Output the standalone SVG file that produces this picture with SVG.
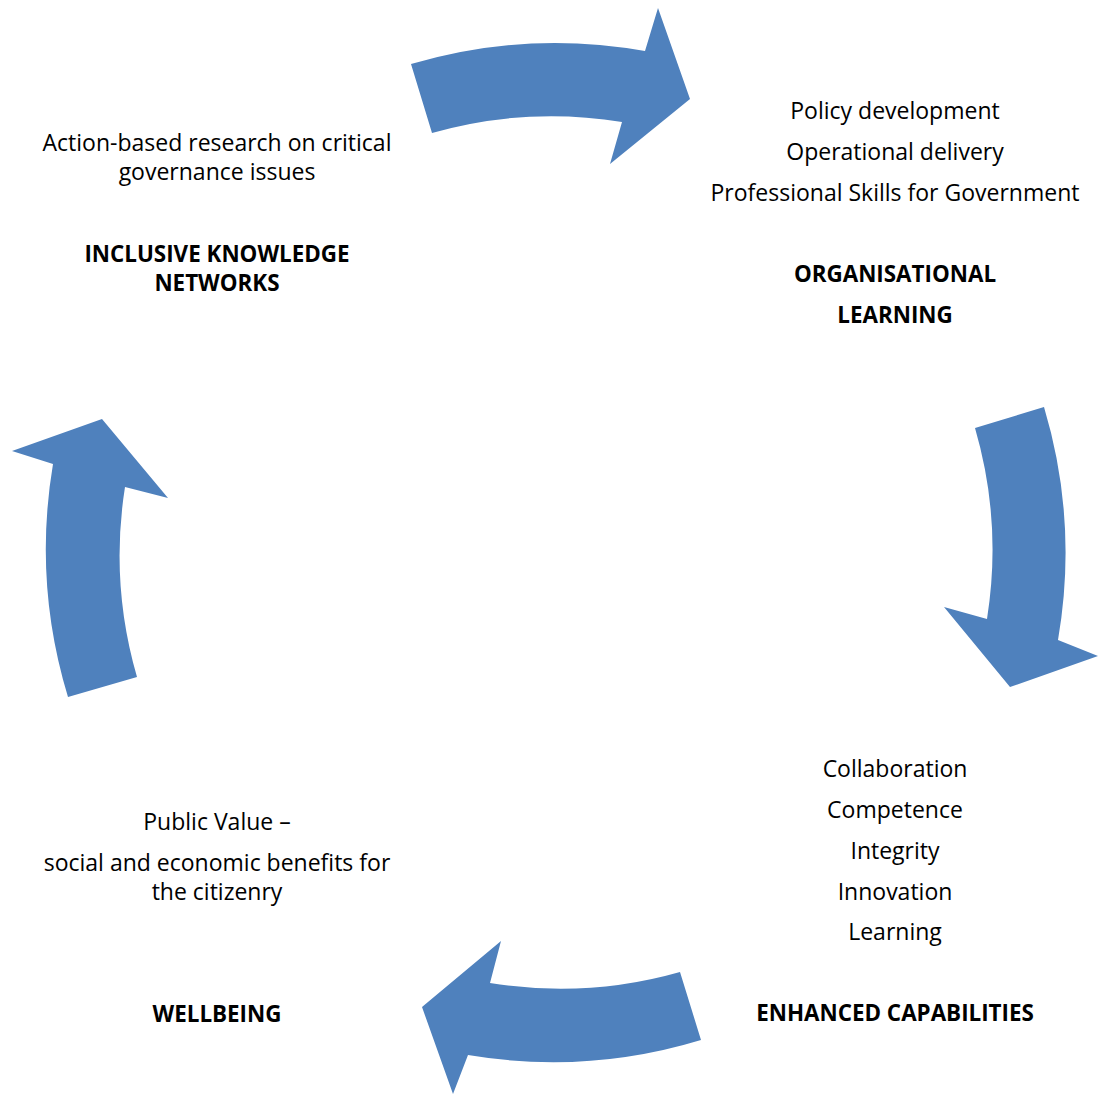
<svg xmlns="http://www.w3.org/2000/svg" width="1099" height="1095" viewBox="0 0 1099 1095">
  <style>
    .arrow { fill: #4F81BD; stroke: none; }
    text { font-family: "Open Sans", "Noto Sans", sans-serif; font-size: 23px; fill: #000; text-anchor: middle; }
    .title { font-weight: bold; font-size: 22.4px; }
  </style>
  <rect width="1099" height="1095" fill="#fff"/>

  <!-- curved block arrows around a common centre (555,552) -->
  <g id="connectors">
    <path class="arrow" d="M 411 64 A 510 510 0 0 1 645 51 L 658 8 L 690 99 L 610 164 L 622 122 A 437 437 0 0 0 432 133 Z"/>
    <path class="arrow" d="M 1044 407 A 510 510 0 0 1 1058 640 L 1098 656 L 1010 687 L 944 607 L 987 619 A 437 437 0 0 0 975 428 Z"/>
    <path class="arrow" d="M 701 1040 A 510 510 0 0 1 468 1055 L 453 1094 L 422 1007 L 501 941 L 490 983 A 437 437 0 0 0 680 972 Z"/>
    <path class="arrow" d="M 68 697 A 510 510 0 0 1 53 464 L 12 451 L 102 419 L 168 498 L 125 487 A 437 437 0 0 0 137 677 Z"/>
  </g>

  <g id="inclusive-knowledge-networks">
    <text x="217" y="151">Action-based research on critical</text>
    <text x="217" y="180">governance issues</text>
    <text class="title" x="217" y="262">INCLUSIVE KNOWLEDGE</text>
    <text class="title" x="217" y="291">NETWORKS</text>
  </g>

  <g id="organisational-learning">
    <text x="895" y="119">Policy development</text>
    <text x="895" y="160">Operational delivery</text>
    <text x="895" y="201">Professional Skills for Government</text>
    <text class="title" x="895" y="282">ORGANISATIONAL</text>
    <text class="title" x="895" y="323">LEARNING</text>
  </g>

  <g id="enhanced-capabilities">
    <text x="895" y="777">Collaboration</text>
    <text x="895" y="818">Competence</text>
    <text x="895" y="859">Integrity</text>
    <text x="895" y="900">Innovation</text>
    <text x="895" y="940">Learning</text>
    <text class="title" x="895" y="1021">ENHANCED CAPABILITIES</text>
  </g>

  <g id="wellbeing">
    <text x="217" y="830">Public Value –</text>
    <text x="217" y="871">social and economic benefits for</text>
    <text x="217" y="900">the citizenry</text>
    <text class="title" x="217" y="1022">WELLBEING</text>
  </g>
</svg>
